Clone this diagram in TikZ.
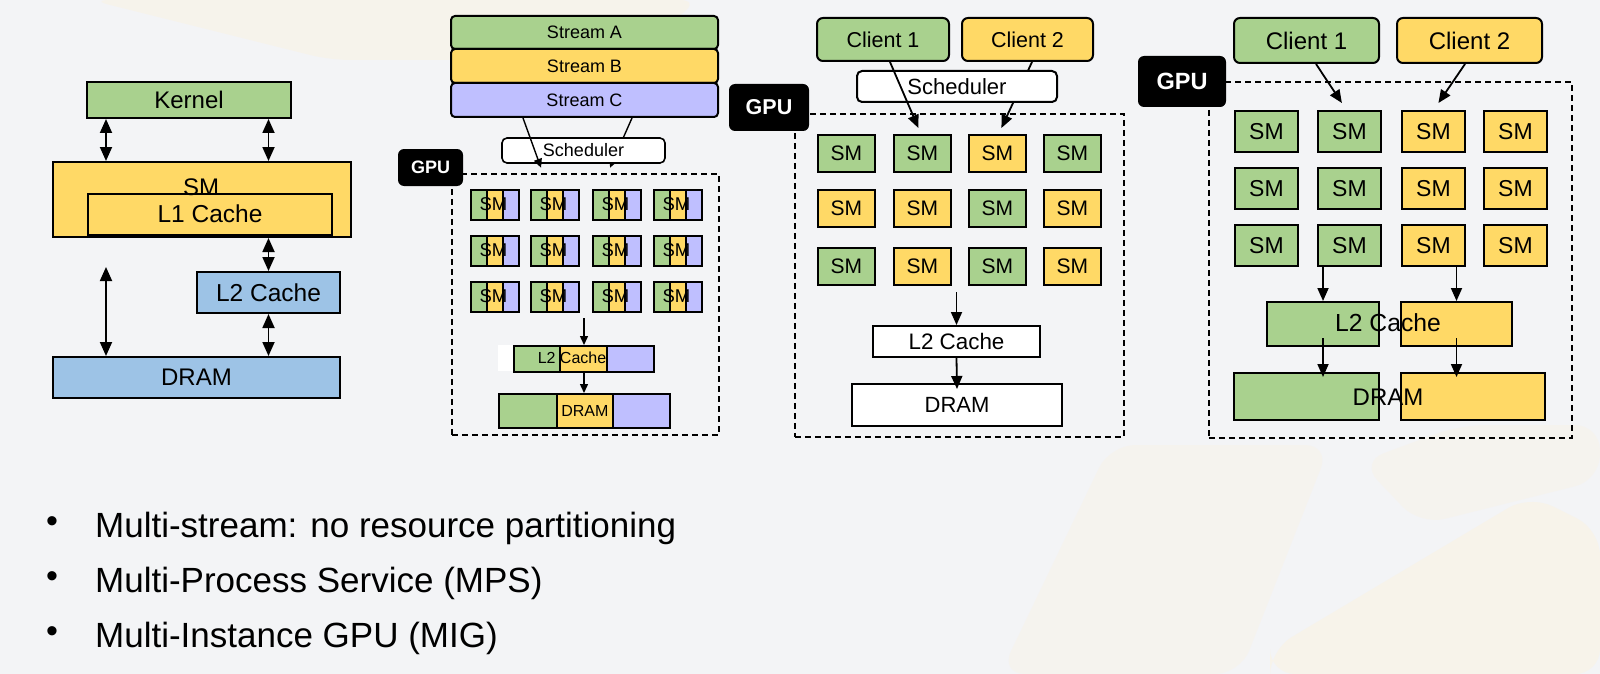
\documentclass[tikz,border=0pt]{standalone}
\usepackage{fontspec}
\setmainfont{Liberation Sans}
\usetikzlibrary{%
	calc,%
	arrows.meta,%
	positioning,%
	backgrounds,%
}
\definecolor{cgreen}{RGB}{169, 209, 142}
\definecolor{cyellow}{RGB}{255, 217, 102}
\definecolor{cblue}{RGB}{157, 195, 230}
\definecolor{cpurple}{RGB}{191, 191, 255}
\definecolor{cbg}{RGB}{243, 244, 246}
\definecolor{cbgwarm}{RGB}{248, 243, 231}
\newcommand{\fsz}[1]{\fontsize{#1}{#1}\selectfont}
\tikzset{
	>={Triangle[length=14pt, width=12pt]},%
	box/.style={%
			draw,%
			rectangle,%
			line width=2pt,%
			inner sep=0pt},%
	roundbox/.style={%
			box,%
			rounded corners=5pt},%
	smbox/.style={%
			box,%
			line width=1.8pt,%
			anchor=north west},%
	gpulabel/.style={%
			fill=black,%
			rounded corners=6pt,%
			text=white,%
			inner sep=0pt},%
	gpuframe/.style={%
			draw,%
			line width=1.7pt,%
			dash pattern=on 6pt off 4pt,%
			inner sep=0pt,%
			anchor=north west},%
	link/.style={%
			line width=1.8pt},%
}

\begin{document}
\begin{tikzpicture}[x=1pt, y=-1pt]
	\useasboundingbox (0,0) rectangle (1600,674);
	\begin{scope}[on background layer]
		\fill[cbg] (0,0) rectangle (1600,674);
		\fill[cbgwarm, opacity=0.7, rounded corners=20pt] (90,0) -- (700,0) -- (620,60) -- (330,60) -- cycle;
		\fill[cbgwarm, opacity=0.5, rounded corners=25pt] (1000,674) -- (1110,445) -- (1330,445) -- (1240,674) -- cycle;
		\fill[cbgwarm, opacity=0.8, rounded corners=25pt] (1270,674) -- (1270,650) -- (1530,495) -- (1600,530) -- (1600,674) -- cycle;
		\fill[cbgwarm, opacity=0.5, rounded corners=25pt] (1360,462) -- (1460,425) -- (1600,425) -- (1600,480) -- (1420,525) -- cycle;
	\end{scope}

	\node[box, fill=cgreen, minimum width=204, minimum height=36, font=\fsz{24}] (kernel) at (189,100) {Kernel};
	\node[box, fill=cyellow, minimum width=298, minimum height=75] (sm) at (202,199.5) {};
	\node[box, fill=cyellow, minimum width=244, minimum height=41, font=\fsz{24.5}] (l1) at (210,214) {L1 Cache};
	\node[font=\fsz{24}] (smtext) at (201,187) {SM};
	\node[box, fill=cblue, minimum width=143, minimum height=41, font=\fsz{24.5}] (l2) at (268.5,292.5) {L2 Cache};
	\node[box, fill=cblue, minimum width=287, minimum height=41, font=\fsz{24}] (dram) at (196.5,377.5) {DRAM};
	\coordinate (dleft) at (106,267);
	\draw[link, <->] (kernel.south -| dleft) -- (sm.north -| dleft);
	\draw[link, <->] (kernel.south -| l2.north) -- (sm.north -| l2.north);
	\draw[link, <->] (sm.south -| l2.north) -- (l2.north);
	\draw[link, <->] (l2.south) -- (dram.north -| l2.south);
	\draw[link, <->] (dleft) -- (dleft |- dram.north);

	\begin{scope}[>={Triangle[length=9pt, width=8pt]}]
		\node[roundbox, rounded corners=4pt, fill=cgreen, minimum width=267, minimum height=33, font=\fsz{18}] (streama) at (584.5,32.5) {Stream A};
		\node[roundbox, rounded corners=4pt, fill=cyellow, minimum width=267, minimum height=34, font=\fsz{18}] (streamb) at (584.5,66) {Stream B};
		\node[roundbox, rounded corners=4pt, fill=cpurple, minimum width=267, minimum height=34, font=\fsz{18}] (streamc) at (584.5,100) {Stream C};
		\node[roundbox, line width=1.6pt, fill=white, minimum width=163, minimum height=25, font=\fsz{18}] (sched1) at (583.5,150.5) {Scheduler};
		\begin{scope}[on background layer]
			\draw[link, ->, line width=1.4pt] ([xshift=47.5pt]streamc.south) -- ([xshift=26.5pt, yshift=-4pt]sched1.south);
		\end{scope}
		\draw[link, ->, line width=1.4pt] ([xshift=-61.5pt]streamc.south) -- ([xshift=-42.5pt, yshift=-4pt]sched1.south);
		\node[gpuframe, line width=1.5pt, minimum width=267, minimum height=261] (frame1) at (451,173) {};
		\node[gpulabel, minimum width=65, minimum height=37, font=\fsz{18}\bfseries] (gpu1) at (430.5,167.5) {GPU};
		\foreach \x [count=\c] in {470,530,592,653}
			\foreach \y [count=\r] in {189,235,281} {
				\node[smbox, fill=cgreen, minimum width=16, minimum height=30] (msg\r\c) at (\x,\y) {};
				\node[smbox, fill=cpurple, minimum width=16, minimum height=30] (msp\r\c) at (\x+32,\y) {};
				\node[smbox, fill=cyellow, minimum width=16, minimum height=30] (msy\r\c) at (\x+16,\y) {};
				\node[font=\fsz{18.5}] (mst\r\c) at (\x+23.5,\y+15) {SM};
			}
		\node[fill=white, inner sep=0pt, minimum width=15, minimum height=26, anchor=north west] (l2pad) at (498,345) {};
		\node[smbox, fill=cgreen, minimum width=46, minimum height=26] (l2msg) at (513,345) {};
		\node[smbox, fill=cpurple, minimum width=47, minimum height=26] (l2msp) at (606,345) {};
		\node[smbox, fill=cyellow, minimum width=47, minimum height=26] (l2msy) at (559,345) {};
		\node[font=\fsz{16}] (l2mstext) at (572,358) {L2 Cache};
		\node[smbox, fill=cgreen, minimum width=58, minimum height=34] (drammsg) at (498,393) {};
		\node[smbox, fill=cpurple, minimum width=57, minimum height=34] (drammsp) at (612,393) {};
		\node[smbox, fill=cyellow, minimum width=56, minimum height=34, font=\fsz{16}] (drammsy) at (556,393) {DRAM};
		\coordinate (mstop) at (584,318);
		\draw[link, ->, line width=1.4pt] (mstop) -- (mstop |- l2msy.north);
		\draw[link, ->, line width=1.4pt] (mstop |- l2msy.south) -- (mstop |- drammsy.north);
	\end{scope}

	\begin{scope}[>={Triangle[length=13pt, width=11pt]}]
		\node[roundbox, rounded corners=6pt, fill=cgreen, minimum width=132, minimum height=43, font=\fsz{21.5}] (client1a) at (883,39.5) {Client 1};
		\node[roundbox, rounded corners=6pt, fill=cyellow, minimum width=131, minimum height=43, font=\fsz{21.5}] (client2a) at (1027.5,39.5) {Client 2};
		\node[roundbox, fill=white, minimum width=200, minimum height=31, font=\fsz{22}] (sched2) at (957,86.5) {Scheduler};
		\node[gpuframe, minimum width=329, minimum height=323] (frame2) at (794,113) {};
		\node[gpulabel, minimum width=80, minimum height=47, font=\fsz{21.5}\bfseries] (gpu2) at (769,107.5) {GPU};
		\foreach \x/\y/\clr/\nm in {817/134/cgreen/11, 893/134/cgreen/12, 968/134/cyellow/13, 1043/134/cgreen/14,
				817/189/cyellow/21, 893/189/cyellow/22, 968/189/cgreen/23, 1043/189/cyellow/24,
				817/247/cgreen/31, 893/247/cyellow/32, 968/247/cgreen/33, 1043/247/cyellow/34}
			\node[smbox, fill=\clr, minimum width=57, minimum height=37, font=\fsz{21}] (mp\nm) at (\x,\y) {SM};
		\begin{scope}[on background layer]
			\draw[link, ->] ([xshift=4.5pt]client2a.south) -- ([xshift=4pt, yshift=6pt]mp13.north);
		\end{scope}
		\draw[link, ->] ([xshift=7pt]client1a.south) -- ([xshift=-4pt, yshift=6pt]mp12.north);
		\node[box, fill=white, minimum width=167, minimum height=31, font=\fsz{22.4}] (l2b) at (956.5,341.5) {L2 Cache};
		\node[box, fill=white, minimum width=210, minimum height=42, font=\fsz{22}] (dramb) at (957,405) {DRAM};
		\draw[link, ->] ([yshift=33pt]l2b.north) -- (l2b.north);
		\draw[link, ->] (l2b.south) -- ([yshift=-6pt]dramb.north);

		\node[roundbox, rounded corners=6pt, fill=cgreen, minimum width=145, minimum height=45, font=\fsz{24}] (client1b) at (1306.5,40.5) {Client 1};
		\node[roundbox, rounded corners=6pt, fill=cyellow, minimum width=145, minimum height=45, font=\fsz{24}] (client2b) at (1469.5,40.5) {Client 2};
		\node[gpuframe, minimum width=363, minimum height=356] (frame3) at (1208,81) {};
		\node[gpulabel, minimum width=88, minimum height=51, font=\fsz{23.5}\bfseries] (gpu3) at (1182,81.5) {GPU};
		\foreach \x/\clr [count=\c] in {1234/cgreen, 1317/cgreen, 1401/cyellow, 1483/cyellow}
			\foreach \y [count=\r] in {110,167,224}
				\node[smbox, fill=\clr, minimum width=63, minimum height=41, font=\fsz{23}] (mg\r\c) at (\x,\y) {SM};
		\draw[link, ->] ([xshift=9.5pt]client1b.south) -- ([xshift=-7.5pt, yshift=7pt]mg12.north);
		\draw[link, ->] ([xshift=-4.5pt]client2b.south) -- ([xshift=5pt, yshift=7pt]mg13.north);
		\node[box, fill=cgreen, minimum width=112, minimum height=44] (l2g) at (1323,324) {};
		\node[box, fill=cyellow, minimum width=111, minimum height=44] (l2y) at (1456.5,324) {};
		\node[box, fill=cgreen, minimum width=145, minimum height=47] (dg) at (1306.5,396.5) {};
		\node[box, fill=cyellow, minimum width=144, minimum height=47] (dy) at (1473,396.5) {};
		\node[font=\fsz{24.7}] (l2text) at (1388,323) {L2 Cache};
		\node[font=\fsz{24}] (dramtext) at (1388,397) {DRAM};
		\draw[link, ->] (l2g.north |- mg32.south) -- (l2g.north);
		\draw[link, ->] (l2y.north |- mg33.south) -- (l2y.north);
		\draw[link, ->] ([yshift=9pt]l2g.south) -- ([yshift=-5pt]dg.north -| l2g.south);
		\draw[link, ->] ([yshift=9pt]l2y.south) -- ([yshift=-5pt]dy.north -| l2y.south);
	\end{scope}

	\foreach \t [count=\i] in {Multi-stream: no resource partitioning, Multi-Process Service (MPS), Multi-Instance GPU (MIG)} {
		\node[font=\fsz{34}, inner sep=0pt] (dot\i) at (52,470+55*\i) {\textbullet};
		\node[anchor=base west, font=\fsz{35}, inner sep=0pt] (item\i) at (95,482+55*\i) {\t};
	}
\end{tikzpicture}
\end{document}
